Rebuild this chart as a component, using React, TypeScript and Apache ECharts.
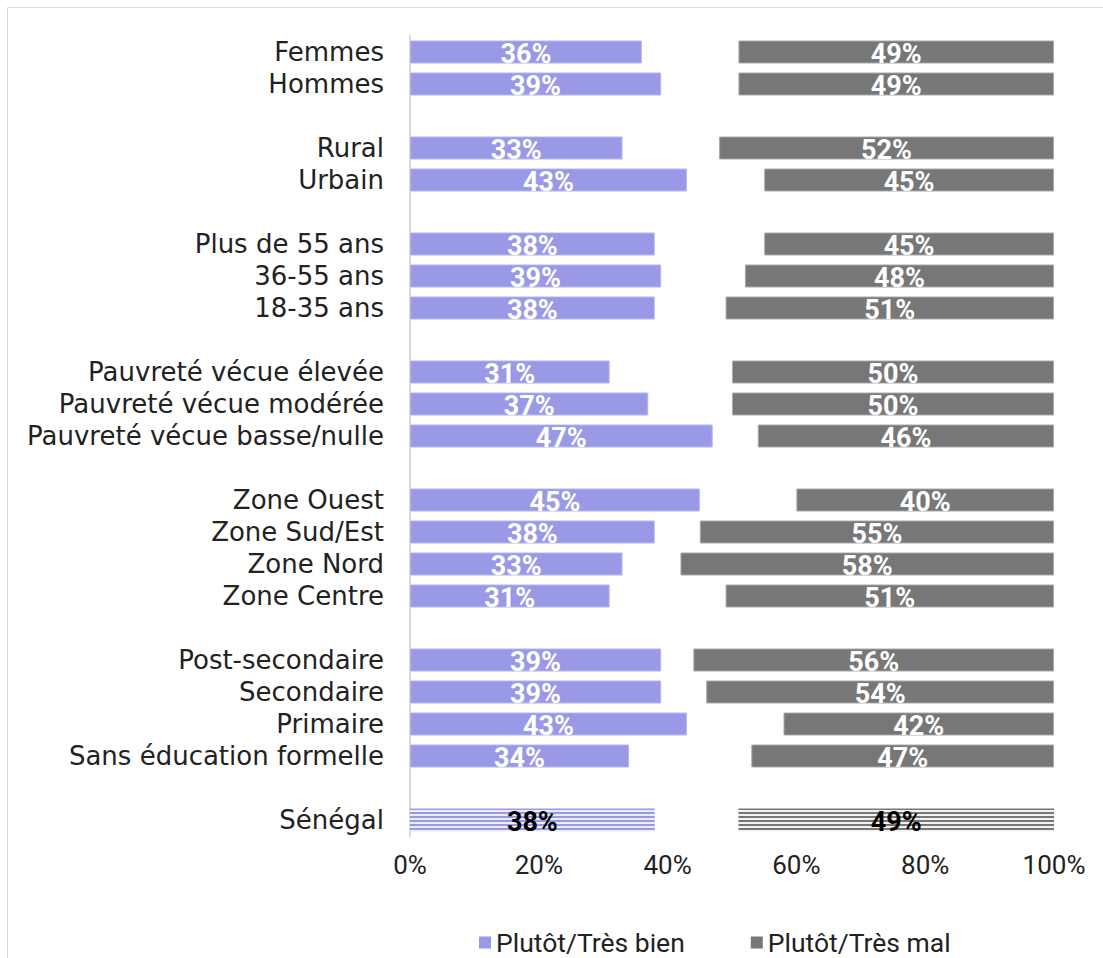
import React, { useEffect, useRef } from "react";
import * as echarts from "echarts";

// Row labels, top to bottom; empty strings are spacer rows between groups
const CATEGORIES = [
  "Femmes", "Hommes", "",
  "Rural", "Urbain", "",
  "Plus de 55 ans", "36-55 ans", "18-35 ans", "",
  "Pauvreté vécue élevée", "Pauvreté vécue modérée", "Pauvreté vécue basse/nulle", "",
  "Zone Ouest", "Zone Sud/Est", "Zone Nord", "Zone Centre", "",
  "Post-secondaire", "Secondaire", "Primaire", "Sans éducation formelle", "",
  "Sénégal",
];

// Share answering "rather / very well" (%)
const BIEN = [
  36, 39, null,
  33, 43, null,
  38, 39, 38, null,
  31, 37, 47, null,
  45, 38, 33, 31, null,
  39, 39, 43, 34, null,
  38,
];

// Share answering "rather / very badly" (%)
const MAL = [
  49, 49, null,
  52, 45, null,
  45, 48, 51, null,
  50, 50, 46, null,
  40, 55, 58, 51, null,
  56, 54, 42, 47, null,
  49,
];

const X_TICKS = [0, 20, 40, 60, 80, 100];

const SERIES_BIEN = "Plutôt/Très bien";
const SERIES_MAL = "Plutôt/Très mal";
const TOTAL_ROW = "Sénégal";

const PURPLE = "#9999E6";
const GREY = "#777777";
const LABEL_FONT = "'DejaVu Sans', sans-serif";
const NUM_FONT = "Roboto, 'Liberation Sans', sans-serif";

function stripePattern(line: string, gap: string) {
  const c = document.createElement("canvas");
  c.width = 4;
  c.height = 4;
  const ctx = c.getContext("2d")!;
  ctx.fillStyle = gap;
  ctx.fillRect(0, 0, 4, 4);
  ctx.fillStyle = line;
  ctx.fillRect(0, 0, 4, 2);
  return { image: c, repeat: "repeat" as const };
}

export default function App() {
  const ref = useRef<HTMLDivElement>(null);

  useEffect(() => {
    if (!ref.current) return;
    const chart = echarts.init(ref.current, null, { renderer: "svg" });

    const purpleStripes = stripePattern(PURPLE, "#ececfb");
    const greyStripes = stripePattern(GREY, "#f2f2f2");

    const rest = BIEN.map((b, i) =>
      b == null || MAL[i] == null ? "-" : 100 - (b as number) - (MAL[i] as number)
    );

    const barLabel = {
      show: true,
      position: "inside" as const,
      formatter: "{c}%",
      color: "#ffffff",
      fontFamily: NUM_FONT,
      fontWeight: "bold" as const,
      fontSize: 27,
      offset: [0, 2],
    };

    const build = (values: (number | null)[], color: string, stripes: any, border: string) =>
      values.map((v, i) => {
        if (v == null) return "-";
        if (CATEGORIES[i] === TOTAL_ROW) {
          return {
            value: v,
            itemStyle: { color: stripes, borderWidth: 0 },
            label: { color: "#000000" },
          };
        }
        return { value: v, itemStyle: { color, borderColor: border, borderWidth: 1 } };
      });

    chart.setOption({
      animation: false,
      backgroundColor: "#ffffff",
      graphic: [
        {
          type: "rect",
          shape: { x: 7.5, y: 7.5, width: 1300, height: 1300 },
          style: { fill: "none", stroke: "#d9d9d9", lineWidth: 1 },
          silent: true,
        },
      ],
      grid: { left: 410, right: 49, top: 36, bottom: 122, containLabel: false },
      legend: {
        data: [SERIES_BIEN, SERIES_MAL],
        left: 474,
        top: 924,
        icon: "rect",
        itemWidth: 12,
        itemHeight: 12,
        itemGap: 66,
        textStyle: { fontFamily: NUM_FONT, fontSize: 26.5, color: "#222222" },
      },
      xAxis: {
        type: "value",
        min: X_TICKS[0],
        max: X_TICKS[X_TICKS.length - 1],
        interval: X_TICKS[1] - X_TICKS[0],
        axisLine: { show: false },
        axisTick: { show: false },
        splitLine: { show: false },
        axisLabel: {
          formatter: "{value}%",
          fontFamily: NUM_FONT,
          fontSize: 26,
          color: "#222222",
          margin: 16,
        },
      },
      yAxis: {
        type: "category",
        inverse: true,
        data: CATEGORIES,
        axisLine: { show: true, lineStyle: { color: "#d9d9d9", width: 2 } },
        axisTick: { show: false },
        axisLabel: {
          interval: 0,
          fontFamily: LABEL_FONT,
          fontSize: 26,
          color: "#222222",
          margin: 26,
        },
      },
      series: [
        {
          name: SERIES_BIEN,
          type: "bar",
          stack: "total",
          barWidth: 23,
          itemStyle: { color: PURPLE },
          label: barLabel,
          data: build(BIEN, PURPLE, purpleStripes, "#b4b4ef"),
        },
        {
          name: "gap",
          type: "bar",
          stack: "total",
          barWidth: 23,
          silent: true,
          itemStyle: { color: "rgba(0,0,0,0)" },
          label: { show: false },
          data: rest,
        },
        {
          name: SERIES_MAL,
          type: "bar",
          stack: "total",
          barWidth: 23,
          itemStyle: { color: GREY },
          label: barLabel,
          data: build(MAL, GREY, greyStripes, "#a8a8a8"),
        },
      ],
    });

    return () => chart.dispose();
  }, []);

  return (
    <div
      ref={ref}
      style={{ position: "fixed", left: 0, top: 0, width: 1103, height: 958 }}
    />
  );
}
